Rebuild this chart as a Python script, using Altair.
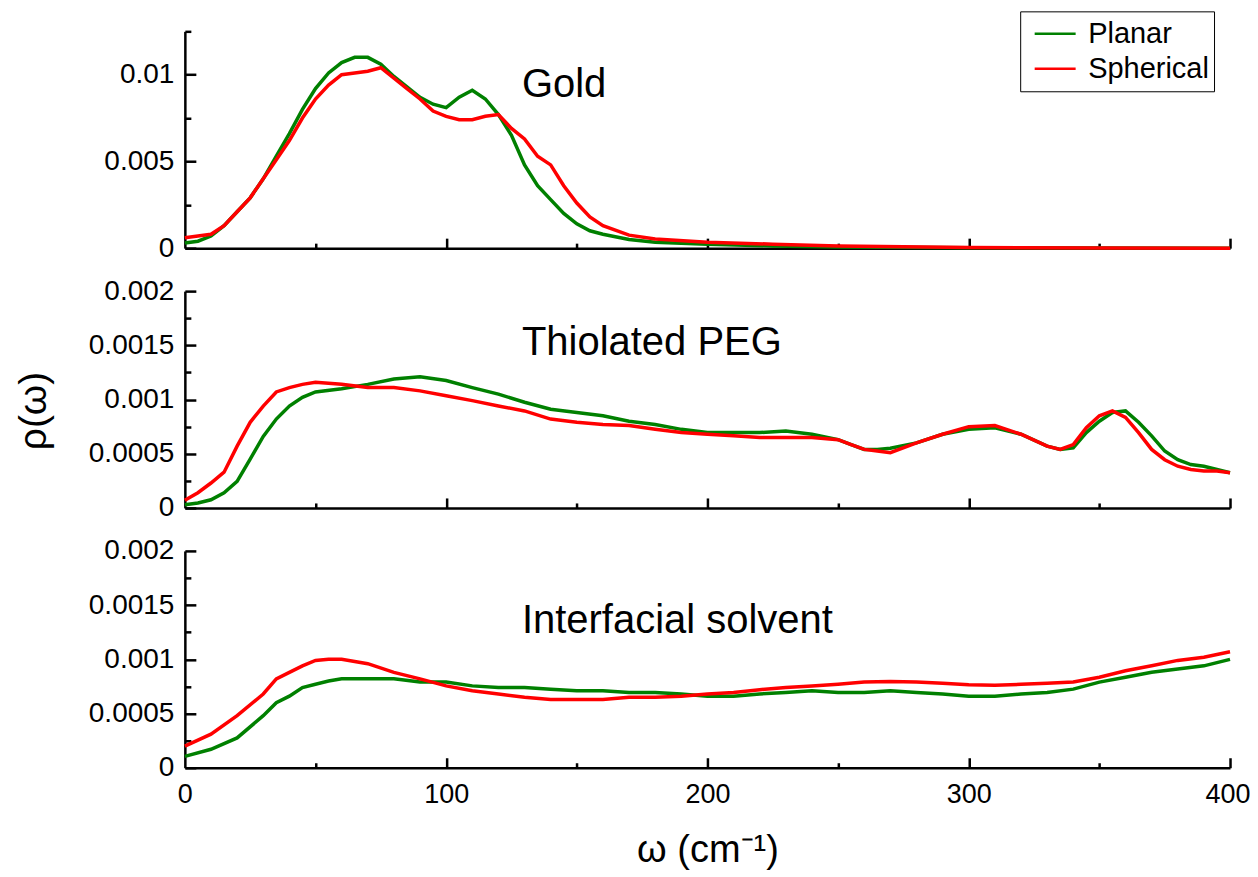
import altair as alt
import pandas as pd

FONT = "Liberation Sans"
W = 1046
H = 217

# ---------------- data ----------------
series_names = ["Planar", "Spherical"]
series_colors = ["#008000", "#ff0000"]

gold_w = [0, 5, 10, 15, 20, 25, 30, 35, 40, 45, 50, 55, 60, 65, 70, 75, 80, 85, 90, 95,
          100, 105, 110, 115, 120, 125, 130, 135, 140, 145, 150, 155, 160, 170, 180, 200,
          225, 250, 300, 350, 400]
gold_planar = [0.0003, 0.0004, 0.0007, 0.0013, 0.0021, 0.0029, 0.0040, 0.0053, 0.0066, 0.0080,
               0.0092, 0.0101, 0.0107, 0.0110, 0.0110, 0.0106, 0.0099, 0.0093, 0.0087, 0.0083,
               0.0081, 0.0087, 0.0091, 0.0086, 0.0077, 0.0065, 0.0048, 0.0036, 0.0028, 0.0020,
               0.0014, 0.0010, 0.0008, 0.0005, 0.00034, 0.00023, 0.00013, 0.00006, 0.00002,
               0.00001, 0.0]
gold_spherical = [0.0006, 0.0007, 0.0008, 0.0013, 0.0021, 0.0029, 0.0040, 0.0051, 0.0062, 0.0075,
                  0.0086, 0.0094, 0.0100, 0.0101, 0.0102, 0.0104, 0.0098, 0.0092, 0.0086, 0.0079,
                  0.0076, 0.0074, 0.0074, 0.0076, 0.0077, 0.0069, 0.0063, 0.0053, 0.0048, 0.0036,
                  0.0026, 0.0018, 0.0013, 0.00075, 0.00053, 0.00034, 0.00023, 0.00012, 0.00004,
                  0.00001, 0.0]

peg_w = [0, 5, 10, 15, 20, 25, 30, 35, 40, 45, 50, 60, 70, 80, 90,
         100, 110, 120, 130, 140, 150, 160, 170, 180, 190, 200, 210, 220, 230, 240,
         250, 255, 260, 265, 270, 280, 290, 300, 310, 320, 330,
         335, 340, 345, 350, 355, 360, 365, 370, 375, 380, 385, 390, 395, 400]
peg_planar = [0.3e-4, 0.45e-4, 0.75e-4, 1.4e-4, 2.45e-4, 4.5e-4, 6.6e-4, 8.2e-4, 9.4e-4, 10.2e-4,
              10.7e-4, 11.0e-4, 11.4e-4, 11.9e-4, 12.1e-4,
              11.75e-4, 11.1e-4, 10.5e-4, 9.75e-4, 9.1e-4, 8.8e-4, 8.5e-4, 8.0e-4, 7.7e-4, 7.25e-4,
              6.95e-4, 6.95e-4, 6.95e-4, 7.1e-4, 6.8e-4,
              6.3e-4, 5.85e-4, 5.4e-4, 5.4e-4, 5.5e-4, 6.0e-4, 6.8e-4, 7.25e-4, 7.4e-4, 6.8e-4, 5.7e-4,
              5.4e-4, 5.55e-4, 6.95e-4, 8.0e-4, 8.8e-4, 8.95e-4, 7.9e-4, 6.65e-4, 5.25e-4, 4.45e-4,
              4.0e-4, 3.85e-4, 3.55e-4, 3.25e-4]
peg_spherical = [0.7e-4, 1.4e-4, 2.3e-4, 3.3e-4, 5.7e-4, 7.9e-4, 9.4e-4, 10.7e-4, 11.1e-4, 11.4e-4,
                 11.6e-4, 11.4e-4, 11.1e-4, 11.1e-4, 10.8e-4,
                 10.35e-4, 9.9e-4, 9.4e-4, 8.95e-4, 8.2e-4, 7.9e-4, 7.7e-4, 7.6e-4, 7.25e-4, 6.95e-4,
                 6.8e-4, 6.65e-4, 6.5e-4, 6.5e-4, 6.5e-4,
                 6.3e-4, 5.85e-4, 5.4e-4, 5.25e-4, 5.1e-4, 6.0e-4, 6.8e-4, 7.5e-4, 7.6e-4, 6.8e-4, 5.7e-4,
                 5.4e-4, 5.85e-4, 7.4e-4, 8.5e-4, 8.95e-4, 8.35e-4, 6.95e-4, 5.4e-4, 4.45e-4, 3.85e-4,
                 3.55e-4, 3.4e-4, 3.4e-4, 3.25e-4]

solv_w = [0, 10, 20, 30, 35, 40, 45, 50, 55, 60, 70, 80, 90, 100, 110, 120, 130, 140, 150, 160,
          170, 180, 190, 200, 210, 220, 230, 240, 250, 260, 270, 280, 290, 300, 310, 320, 330,
          340, 350, 360, 370, 380, 390, 400]
solv_planar = [1.05e-4, 1.7e-4, 2.75e-4, 4.8e-4, 6.0e-4, 6.6e-4, 7.4e-4, 7.7e-4, 8.0e-4, 8.2e-4,
               8.2e-4, 8.2e-4, 7.9e-4, 7.9e-4, 7.55e-4, 7.4e-4, 7.4e-4, 7.25e-4, 7.1e-4, 7.1e-4,
               6.95e-4, 6.95e-4, 6.8e-4, 6.6e-4, 6.6e-4, 6.8e-4, 6.95e-4, 7.1e-4, 6.95e-4, 6.95e-4,
               7.1e-4, 6.95e-4, 6.8e-4, 6.6e-4, 6.6e-4, 6.8e-4, 6.95e-4, 7.25e-4, 7.9e-4, 8.35e-4,
               8.8e-4, 9.1e-4, 9.4e-4, 10.0e-4]
solv_spherical = [2.0e-4, 3.1e-4, 4.8e-4, 6.8e-4, 8.2e-4, 8.8e-4, 9.4e-4, 9.9e-4, 10.0e-4, 10.0e-4,
                  9.6e-4, 8.8e-4, 8.2e-4, 7.55e-4, 7.1e-4, 6.8e-4, 6.5e-4, 6.3e-4, 6.3e-4, 6.3e-4,
                  6.5e-4, 6.5e-4, 6.6e-4, 6.8e-4, 6.95e-4, 7.2e-4, 7.4e-4, 7.55e-4, 7.7e-4, 7.9e-4,
                  7.95e-4, 7.9e-4, 7.8e-4, 7.65e-4, 7.6e-4, 7.7e-4, 7.8e-4, 7.9e-4, 8.35e-4, 8.95e-4,
                  9.4e-4, 9.9e-4, 10.2e-4, 10.7e-4]

panel_labels = ["Gold", "Thiolated PEG", "Interfacial solvent"]
label_w = [129, 129, 129]
label_rho = [0.0094, 0.00152, 0.00135]

x_labels_main = [100, 200, 300, 400]
x_label_zero = [0]
x_major_ticks = [100, 200, 300, 400]
x_minor_ticks = [50, 150, 250, 350]
gold_major = [0, 0.005, 0.01]
gold_minor = [0.0025, 0.0075, 0.0125]
small_major = [0, 0.0005, 0.001, 0.0015, 0.002]
small_minor = [0.00025, 0.00075, 0.00125, 0.00175]


def make_df(w, planar, spherical):
    a = pd.DataFrame({"w": w, "rho": planar, "series": series_names[0]})
    b = pd.DataFrame({"w": w, "rho": spherical, "series": series_names[1]})
    return a, b


def panel(w, planar, spherical, ydomain, ymajor, yminor, idx, bottom, legend):
    dfp, dfs = make_df(w, planar, spherical)
    both = pd.concat([dfp, dfs])
    xs = alt.Scale(domain=[0, 400], nice=False, zero=False)
    ys = alt.Scale(domain=ydomain, nice=False, zero=False)
    cscale = alt.Scale(domain=series_names, range=series_colors)

    if bottom:
        x_axis = alt.Axis(orient="bottom", ticks=False, tickSize=0, values=x_labels_main,
                          labelPadding=14, labelFontSize=27, labelFlush=True,
                          labelFlushOffset=20, title="ω (cm⁻¹)", titleFontSize=38,
                          titlePadding=24)
        zero_axis = alt.Axis(orient="bottom", ticks=False, tickSize=0, domain=False,
                             values=x_label_zero, labelPadding=14, labelFontSize=27,
                             labelFlush=False, title="")
    else:
        x_axis = alt.Axis(orient="bottom", ticks=False, tickSize=0, labels=False,
                          values=x_labels_main, title="")
        zero_axis = None
    y_axis = alt.Axis(orient="left", ticks=False, tickSize=0, values=ymajor, format="~g",
                      labelPadding=11, minExtent=100, maxExtent=100, title="ρ(ω)",
                      titleFontSize=39, titlePadding=31, titleY=H / 2 + 11,
                      titleOpacity=1 if idx == 1 else 0)

    if legend:
        leg = alt.Legend(title=None, orient="none", legendX=836, legendY=-20,
                         strokeColor="black", fillColor="white", padding=5,
                         labelFont=FONT, labelFontSize=29, labelColor="black",
                         symbolType="stroke", symbolSize=1681, symbolStrokeWidth=2.5,
                         symbolOffset=8, labelOffset=11, clipHeight=35, rowPadding=0)
    else:
        leg = None

    green = alt.Chart(dfp).mark_line(strokeWidth=3.5).encode(
        x=alt.X("w:Q", scale=xs, axis=x_axis),
        y=alt.Y("rho:Q", scale=ys, axis=y_axis),
        color=alt.Color("series:N", scale=cscale, legend=leg),
    )
    red = alt.Chart(dfs).mark_line(strokeWidth=3.5).encode(
        x=alt.X("w:Q", scale=xs, axis=None),
        y=alt.Y("rho:Q", scale=ys, axis=None),
        color=alt.Color("series:N", scale=cscale, legend=leg),
    )
    major = alt.Chart(both).mark_point(opacity=0).encode(
        x=alt.X("w:Q", scale=xs, axis=alt.Axis(orient="top", offset=-H, labels=False,
                                                domain=False, values=x_major_ticks,
                                                tickSize=10, tickWidth=2.5,
                                                tickColor="black", title="")),
        y=alt.Y("rho:Q", scale=ys, axis=alt.Axis(orient="right", offset=-W, labels=False,
                                                  domain=False, values=ymajor,
                                                  tickSize=11, tickWidth=2.5,
                                                  tickColor="black", title="")),
    )
    minor = alt.Chart(both).mark_point(opacity=0).encode(
        x=alt.X("w:Q", scale=xs, axis=alt.Axis(orient="top", offset=-H, labels=False,
                                                domain=False, values=x_minor_ticks,
                                                tickSize=5, tickWidth=2.5,
                                                tickColor="black", title="")),
        y=alt.Y("rho:Q", scale=ys, axis=alt.Axis(orient="right", offset=-W, labels=False,
                                                  domain=False, values=yminor,
                                                  tickSize=6, tickWidth=2.5,
                                                  tickColor="black", title="")),
    )
    tdf = pd.DataFrame({"w": [label_w[idx]], "rho": [label_rho[idx]], "label": [panel_labels[idx]]})
    text = alt.Chart(tdf).mark_text(align="left", baseline="middle", fontSize=40,
                                    font=FONT, color="black").encode(
        x=alt.X("w:Q", scale=xs, axis=zero_axis),
        y=alt.Y("rho:Q", scale=ys, axis=None),
        text="label:N",
    )
    return alt.layer(green, red, major, minor, text).resolve_axis(
        x="independent", y="independent").properties(width=W, height=H)


p1 = panel(gold_w, gold_planar, gold_spherical, [0, 0.0125], gold_major, gold_minor, 0, False, True)
p2 = panel(peg_w, peg_planar, peg_spherical, [0, 0.002], small_major, small_minor, 1, False, False)
p3 = panel(solv_w, solv_planar, solv_spherical, [0, 0.002], small_major, small_minor, 2, True, False)

chart = alt.vconcat(p1, p2, p3, spacing=15).resolve_scale(color="independent").resolve_legend(
    color="independent"
).properties(
    padding={"left": 7, "top": 2, "right": 0, "bottom": 0}
).configure_view(stroke=None).configure_axis(
    grid=False, domainColor="black", domainWidth=2.5, labelFont=FONT, labelFontSize=28,
    labelColor="black", titleFont=FONT, titleFontWeight="normal", titleColor="black"
)

chart.save("out.html", embed_options={"renderer": "svg", "actions": False})
